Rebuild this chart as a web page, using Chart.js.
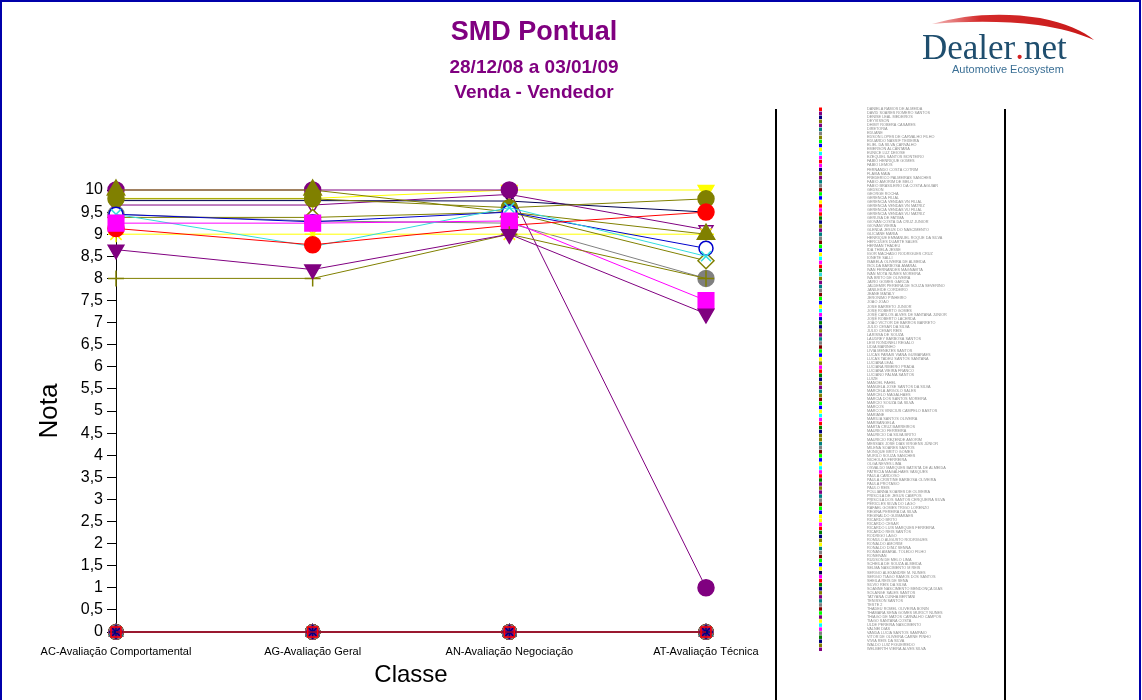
<!DOCTYPE html>
<html lang="pt-BR">
<head>
<meta charset="utf-8">
<title>SMD Pontual</title>
<script src="https://cdn.jsdelivr.net/npm/chart.js@4.4.1/dist/chart.umd.min.js"></script>
<style>
  html, body { margin: 0; padding: 0; background: #fff; }
  canvas { display: block; }
</style>
</head>
<body>
<canvas id="smd-chart" width="1142" height="700"></canvas>
<script>
const classes = [
  'AC-Avaliação Comportamental',
  'AG-Avaliação Geral',
  'AN-Avaliação Negociação',
  'AT-Avaliação Técnica'
]

const vendedores = [
  'DANIELA RAMOS DE ALMEIDA', 'DAVID SOARES ROMERO SANTOS', 'DENISE LEAL MEDEIROS', 'DEYVISSON',
  'DHIMY ROBERA CASARES', 'DIRETORIA', 'EDUANE', 'EDSON LOPES DE CARVALHO FILHO',
  'EDUARDO NASSIF TEIXEIRA', 'ELIEL DA SILVA CARVALHO', 'EMERSON ALCÂNTARA', 'EUNICE LUZ DEIOSE',
  'EZEQUIEL SANTOS MONTEIRO', 'FABIO HENRIQUE GOMES', 'FABIO LEMOS', 'FERNANDO COSTA COTRIM',
  'FLAVIA MAIA', 'FREDERICO PALMEIRAS SANCHES', 'FÁBIO AMORIM DE MELO', 'FÁBIO BRASILEIRO DA COSTA AGUIAR',
  'GEDSON', 'GEORGE ROCHA', 'GERENCIA FILIAL', 'GERENCIA VENDAS VN FILIAL',
  'GERENCIA VENDAS VN MATRIZ', 'GERENCIA VENDAS VU FILIAL', 'GERENCIA VENDAS VU MATRIZ', 'GERUSA DE FATIMA',
  'GIOVAN COSTA DA CRUZ JUNIOR', 'GIOVANI VIEIRA', 'GLENDA JESUS DO NASCIMENTO', 'GLICIANE MARIA',
  'HENRIQUE EMMANUEL ROQUE DA SILVA', 'HERCULES DUARTE SALES', 'HERMAN THADEU', 'IDA THIELA JESSE',
  'IGOR MACHADO RODRIGUES CRUZ', 'IONETE SALLI', 'ISABELA OLIVEIRA DE ALMEIDA', 'ISOLDA BARBOSA AMARAL',
  'IVAN FERNANDES MAGNAVITA', 'IVAN MOTA NUNES MOREIRA', 'IVA BRITO DE OLIVEIRA', 'JAIRO GOMES GARCIA',
  'JALDEMIR PEREIRA DE SOUZA SEVERINO', 'JANILEIDE CORDEIRO', 'JEANE MATALY', 'JERONIMO PINHEIRO',
  'JOAO JOAO', 'JOSE BARRETO JUNIOR', 'JOSE ROBERTO GOMES', 'JOSÉ CARLOS ALVES DE SANTANA JUNIOR',
  'JOSÉ ROBERTO LACERDA', 'JOÃO VICTOR DE BARROS BARRETO', 'JULIO CESAR DA SILVA', 'JULIO CESAR REIS',
  'LARISSA DE SOUZA', 'LAUDREY BARBOSA SANTOS', 'LEVI RONDINELI REGALO', 'LIDIA MARINHO',
  'LIVIA MENEZES SANTOS', 'LUCAS PARAIS VIANA GUIMARAES', 'LUCAS TADEU SANTOS SANTANA', 'LUCIANA LEAL',
  'LUCIANA RIBEIRO PRADA', 'LUCIANA VIEIRA FRANCO', 'LUCIANO PALMA SANTOS', 'LUIZE',
  'MANOEL FAHEL', 'MANUELA JOSE SANTOS DA SILVA', 'MARCELA ARGOLO SALES', 'MARCELO MAGALHAES',
  'MARCIA DOS SANTOS MOREIRA', 'MARCIO SOUZA DA SILVA', 'MARCOS', 'MARCOS VINICIUS CAMPELO BASTOS',
  'MARIANE', 'MARILIA SANTOS OLIVEIRA', 'MARISANGELA', 'MARTA CRUZ BARREIROS',
  'MAURICIO FERREIRA', 'MAURÍCIO DA SILVA BRITO', 'MAURÍCIO REZENDE AMORIM', 'MESSIAS JOSÉ DIAS VIRGENS JÚNIOR',
  'MILENA SOARES SANTOS', 'MONIQUE BRITO GOMES', 'MURILO SOUZA SANCHES', 'NICHOLAS FERREIRA',
  'OLGA NEVES LIMA', 'OSVALDO MARQUES BATISTA DE ALMEIDA', 'PATRICIA MAGALHAES VASQUES', 'PAULA CARDOSO',
  'PAULA CRISTINE BARBOSA OLIVEIRA', 'PAULA PROTASIO', 'PAULO REIS', 'POLLIANNA SOARES DE OLIVEIRA',
  'PRISCILA DE JESUS CAMPOS', 'PRISCILA DOS SANTOS CERQUEIRA SILVA', 'PÉRICLES SILVA DO LAGO', 'RAFAEL GOMES TRIGO LORENZO',
  'REGINA PEREIRA DA SILVA', 'REGINALDO GUIMARAES', 'RICARDO BRITO', 'RICARDO CESAR',
  'RICARDO LUIS MARQUES FERREIRA', 'RICARDO REIS SANTOS', 'RODRIGO LAGO', 'ROMULO AUGUSTO RODRIGUES',
  'RONALDO AMORIM', 'RONALDO DINIZ SENNA', 'RONAN AMARAL TOLEDO FILHO', 'RONEIVAN',
  'RUDSON DE MELO LIMA', 'SCHEILA DE SOUZA ALMEIDA', 'SELMA NASCIMENTO M REIS', 'SERGIO ALEXANDRE M. NUNES',
  'SERGIO TIAGO RAMOS DOS SANTOS', 'SHEILA REIS DE SENA', 'SILVIO REIS DA SILVA', 'SOANNE NASCIMENTO MENDONÇA DIAS',
  'SOLANGE SALES SANTOS', 'TATYANA CUNHA BERTANI', 'TENISSON SANTOS', 'TESTE 2',
  'THADEU ROMEL OLIVEIRA BONIN', 'THAMARA SENA GOMES MURICY NUNES', 'THIAGO DE MATOS CARVALHO CAMPOS', 'TIAGO SANTANA COSTA',
  'ULDE PEREIRA NASCIMENTO', 'VALNEI DIAS', 'VANDA LUCIA SANTOS SAMPAIO', 'VITOR DE OLIVEIRA CARNE PINHO',
  'VIVIA REIS DA SILVA', 'WALDO LUIZ FIGUEIREDO', 'WELBERTH VIEIRA ALVES SILVA'
]

// vendedores com nota acima de zero
const destaqueNomes = [
  'DAVID SOARES ROMERO SANTOS', 'EDSON LOPES DE CARVALHO FILHO', 'FABIO LEMOS',
  'GERENCIA VENDAS VN MATRIZ', 'IVAN MOTA NUNES MOREIRA', 'JOSÉ ROBERTO LACERDA',
  'LUCIANA LEAL', 'MARCELO MAGALHAES', 'MAURÍCIO REZENDE AMORIM', 'PAULA PROTASIO',
  'RICARDO BRITO', 'RONALDO AMORIM', 'SERGIO ALEXANDRE M. NUNES',
  'THIAGO DE MATOS CARVALHO CAMPOS', 'VANDA LUCIA SANTOS SAMPAIO'
]
const destaqueNotas = [
  [8.65, 8.2, 9.0, 7.2],
  [8.0, 8.0, 9.0, 8.0],
  [9.25, 9.25, 9.3, 7.5],
  [9.13, 8.76, 9.2, 9.5],
  [9.45, 8.72, 9.6, 8.5],
  [9.45, 9.28, 9.5, 8.68],
  [10, 10, 9.5, 9.0],
  [9.8, 9.8, 9.6, 9.8],
  [9.38, 9.38, 9.5, 8.4],
  [10, 10, 10, 1.0],
  [9.81, 9.81, 10, 10],
  [9.0, 9.0, 9.0, 9.0],
  [9.76, 9.76, 9.75, 9.5],
  [9.66, 9.66, 9.9, 9.1],
  [9.45, 9.3, 9.25, 8.0]
]
const notaZerada = [0, 0, 0, 0]

// estilos
const destaqueCores = [
  '#800080', '#808000', '#ff00ff', '#ff0000', '#33dddd', '#0000cc', '#808000',
  '#808000', '#808000', '#800080', '#ffff00', '#ffff00', '#000050', '#800080', '#808080'
]
const destaqueMarcadores = [
  { style: 'triangle', rot: 180, r: 9 },
  { style: 'cross', r: 8 },
  { style: 'rect', r: 11 },
  { style: 'circle', r: 8 },
  { style: 'crossRot', r: 7 },
  { style: 'circle', r: 7, fill: '#ffffff' },
  { style: 'triangle', r: 10 },
  { style: 'circle', r: 8 },
  { style: 'rectRot', r: 8, fill: '#ffffff' },
  { style: 'circle', r: 8 },
  { style: 'triangle', rot: 180, r: 9 },
  { style: 'star', r: 8 },
  { style: 'crossRot', r: 5 },
  { style: 'triangle', rot: 180, r: 8, fill: '#ffffff' },
  { style: 'circle', r: 8 }
]
const paleta = [
  '#ff0000', '#008000', '#000080', '#808000', '#800080', '#008080', '#808080',
  '#800000', '#00ff00', '#0000ff', '#ffff00', '#00ffff', '#ff00ff'
]
const marcadores = ['rect', 'crossRot', 'star', 'cross', 'rectRot', 'triangle', 'circle']

const datasets = vendedores.map((nome, i) => {
  const k = destaqueNomes.indexOf(nome)
  if (k >= 0) {
    const m = destaqueMarcadores[k]
    return {
      label: nome,
      data: destaqueNotas[k],
      borderColor: destaqueCores[k],
      backgroundColor: m.fill || destaqueCores[k],
      pointBorderColor: destaqueCores[k],
      pointStyle: m.style,
      pointRotation: m.rot || 0,
      pointRadius: m.r,
      pointBorderWidth: 1.5
    }
  }
  const cor = paleta[i % paleta.length]
  const estilo = marcadores[i % marcadores.length]
  return {
    label: nome,
    data: notaZerada.slice(),
    borderColor: cor,
    backgroundColor: estilo === 'rect' ? 'transparent' : cor,
    pointStyle: estilo,
    pointRadius: 7,
    pointBorderWidth: 1.5
  }
})

const cabecalho = {
  id: 'cabecalho',
  afterDraw(chart) {
    const ctx = chart.ctx
    ctx.save()
    ctx.fillStyle = '#800080'
    ctx.textAlign = 'center'
    ctx.textBaseline = 'middle'
    ctx.font = 'bold 27px "Liberation Sans"'
    ctx.fillText('SMD Pontual', 534, 33)
    ctx.font = 'bold 19px "Liberation Sans"'
    ctx.fillText('28/12/08 a 03/01/09', 534, 68)
    ctx.fillText('Venda - Vendedor', 534, 93)

    // logo
    const grad = ctx.createLinearGradient(930, 0, 1096, 0)
    grad.addColorStop(0, '#f5c0c0')
    grad.addColorStop(0.3, '#d42a2a')
    grad.addColorStop(1, '#c81818')
    ctx.fillStyle = grad
    ctx.beginPath()
    ctx.moveTo(932, 24)
    ctx.bezierCurveTo(965, 14, 1005, 12, 1040, 18)
    ctx.bezierCurveTo(1065, 23, 1084, 31, 1094, 40)
    ctx.bezierCurveTo(1078, 33, 1060, 28, 1038, 25)
    ctx.bezierCurveTo(1005, 21, 968, 21, 932, 24)
    ctx.closePath()
    ctx.fill()

    ctx.textAlign = 'left'
    ctx.textBaseline = 'alphabetic'
    ctx.font = '35px "Liberation Serif"'
    ctx.fillStyle = '#1f4e6e'
    let x = 922
    ctx.fillText('Dealer', x, 59)
    x += ctx.measureText('Dealer').width
    ctx.fillStyle = '#d42020'
    ctx.fillText('.', x, 59)
    x += ctx.measureText('.').width
    ctx.fillStyle = '#1f4e6e'
    ctx.fillText('net', x, 59)
    ctx.font = '11px "Liberation Sans"'
    ctx.fillStyle = '#3a6f95'
    ctx.fillText('Automotive Ecosystem', 952, 73)

    // moldura da página
    ctx.strokeStyle = '#0000aa'
    ctx.lineWidth = 2
    ctx.strokeRect(1, 1, 1139, 710)
    ctx.restore()
  }
}

const legendaLateral = {
  id: 'legendaLateral',
  afterDraw(chart) {
    const ctx = chart.ctx
    ctx.save()
    ctx.strokeStyle = '#000'
    ctx.lineWidth = 2
    ctx.beginPath()
    ctx.moveTo(776, 109); ctx.lineTo(776, 700)
    ctx.moveTo(1005, 109); ctx.lineTo(1005, 700)
    ctx.stroke()
    ctx.font = '3.8px "Liberation Sans"'
    ctx.textBaseline = 'middle'
    ctx.textAlign = 'left'
    chart.data.datasets.forEach((ds, i) => {
      const y = 109 + i * 4.03
      ctx.fillStyle = ds.borderColor
      ctx.fillRect(819, y - 1.5, 3, 3.5)
      ctx.fillStyle = '#8c8c8c'
      ctx.fillText(ds.label, 867, y)
    })
    ctx.restore()
  }
}

new Chart(document.querySelector('#smd-chart'), {
  type: 'line',
  data: { labels: classes, datasets },
  plugins: [cabecalho, legendaLateral],
  options: {
    responsive: false,
    animation: false,
    clip: false,
    layout: { padding: { left: 0, top: 190, right: 436, bottom: 0 } },
    elements: { line: { borderWidth: 1, tension: 0 } },
    plugins: { legend: { display: false }, tooltip: { enabled: false } },
    scales: {
      x: {
        grid: { display: false, drawTicks: false },
        border: { display: false },
        ticks: { color: '#000', padding: 13, font: { family: 'Liberation Sans', size: 11 } },
        title: { display: true, text: 'Classe', color: '#000', padding: { bottom: 10 },
          font: { family: 'Liberation Sans', size: 24 } },
        afterFit: (scale) => { scale.height = 68 }
      },
      y: {
        min: 0,
        max: 10,
        ticks: {
          stepSize: 0.5,
          autoSkip: false,
          color: '#000',
          padding: 4,
          font: { family: 'Liberation Sans', size: 16 },
          callback: (v) => String(v).replace('.', ',')
        },
        grid: { drawOnChartArea: false, tickLength: 9, color: '#000' },
        border: { display: true, color: '#000', width: 1, dash: [2, 3] },
        title: { display: true, text: 'Nota', color: '#000', padding: { top: 34 },
          font: { family: 'Liberation Sans', size: 26 } },
        afterFit: (scale) => { scale.width = 116 }
      }
    }
  }
})
</script>
</body>
</html>
